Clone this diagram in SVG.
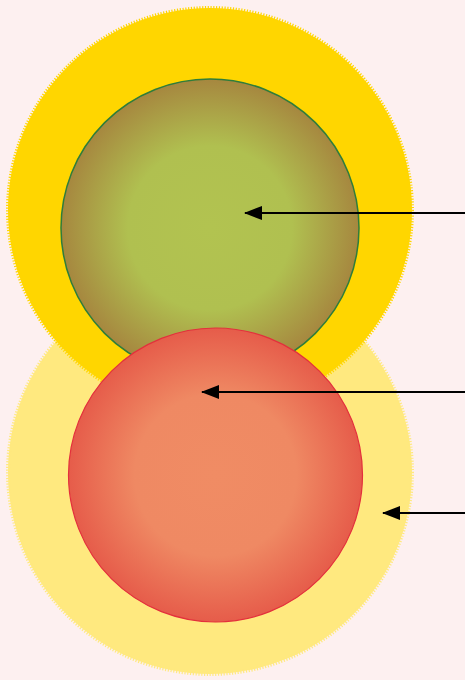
<svg xmlns="http://www.w3.org/2000/svg" width="465" height="680" viewBox="0 0 465 680">
  <style>
    .conn { stroke: #000; stroke-width: 2; fill: none; marker-end: url(#arrow); }
    .halo { stroke-width: 4; stroke-dasharray: 1.2 1.6; }
  </style>
  <defs>
    <marker id="arrow" viewBox="0 0 18 14" refX="17" refY="7" markerWidth="18" markerHeight="14" markerUnits="userSpaceOnUse" orient="auto">
      <path d="M0,0 L18,7 L0,14 Z" fill="#000"/>
    </marker>
    <radialGradient id="gGreen" cx="0.5" cy="0.5" r="0.5">
      <stop offset="0" stop-color="#b2c350"/>
      <stop offset="0.55" stop-color="#b0c050"/>
      <stop offset="1" stop-color="#a6873f"/>
    </radialGradient>
    <radialGradient id="gRed" cx="0.5" cy="0.5" r="0.5">
      <stop offset="0" stop-color="#f08c64"/>
      <stop offset="0.55" stop-color="#ef8963"/>
      <stop offset="1" stop-color="#e65c4a"/>
    </radialGradient>
  </defs>
  <rect width="465" height="680" fill="#fdf0f0"/>
  <g id="outer-bottom">
    <circle cx="210" cy="472" r="202" fill="#ffe97f" stroke="#ffe97f" class="halo"/>
  </g>
  <g id="outer-top">
    <circle cx="210" cy="210" r="202" fill="#ffd600" stroke="#ffd600" class="halo"/>
  </g>
  <g id="inner-green">
    <circle cx="210" cy="228" r="149" fill="url(#gGreen)" stroke="#2f7d3a" stroke-width="1.5"/>
  </g>
  <g id="inner-red">
    <circle cx="215.5" cy="475" r="147" fill="url(#gRed)" stroke="#e3303c" stroke-width="1.2"/>
  </g>
  <g id="connectors">
    <line class="conn" x1="465" y1="213" x2="245" y2="213"/>
    <line class="conn" x1="465" y1="392" x2="202" y2="392"/>
    <line class="conn" x1="465" y1="513" x2="383" y2="513"/>
  </g>
</svg>
